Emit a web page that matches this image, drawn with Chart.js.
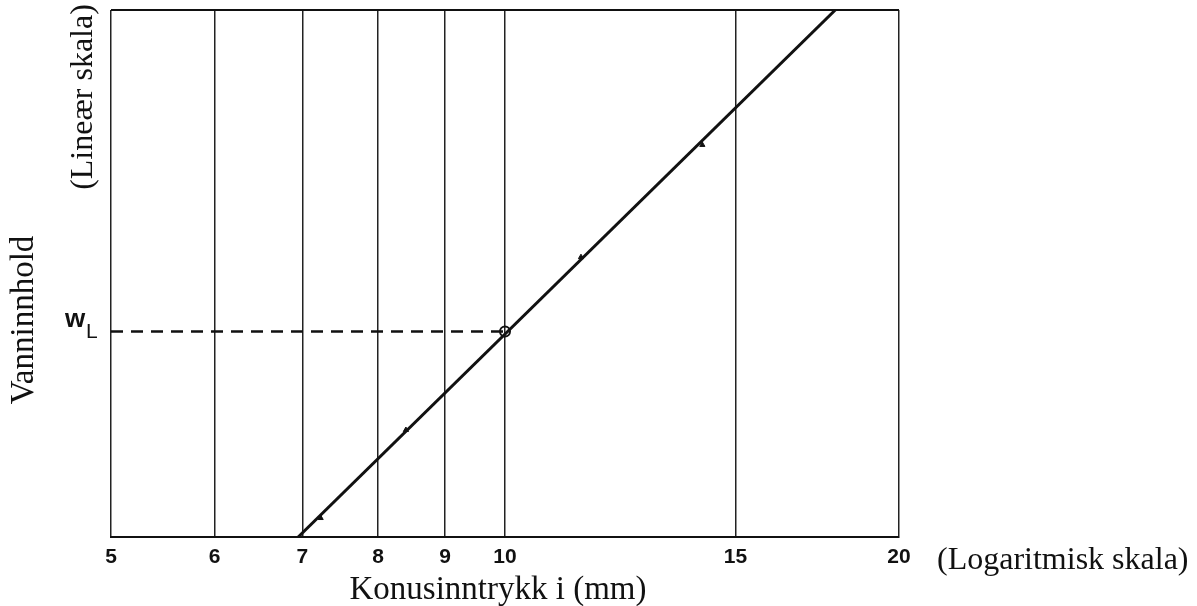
<!DOCTYPE html>
<html>
<head>
<meta charset="utf-8">
<script src="https://cdn.jsdelivr.net/npm/chart.js@4/dist/chart.umd.min.js"></script>
<style>
  html, body { margin: 0; padding: 0; background: #fff; }
</style>
</head>
<body>
<canvas id="konus" width="1197" height="606"></canvas>
<script>
// cone penetration (mm, log axis) vs. water content (linear, relative units 0..100)
const xTicks = [5, 6, 7, 8, 9, 10, 15, 20]
const penetration = [7.23, 8.4, 11.43, 14.15]
const waterContent = [3.6, 20.3, 53.1, 74.4]
const fitPenetration = [6.95, 17.88]
const fitWaterContent = [0, 100]
const limitPenetration = 10
const limitWater = 39

const serif = '"Liberation Serif", "Times New Roman", serif'
const sans = '"Liberation Sans", Arial, sans-serif'

const zip = (xs, ys) => xs.map((x, i) => ({ x: x, y: ys[i] }))

function rotatedText(ctx, text, x, y) {
    ctx.save()
    ctx.translate(x, y)
    ctx.rotate(-Math.PI / 2)
    ctx.textAlign = 'center'
    ctx.textBaseline = 'alphabetic'
    ctx.fillText(text, 0, 0)
    ctx.restore()
}

// frame top line and the free-standing labels
const textPlugin = {
    id: 'texts',
    afterDraw(chart) {
        const { ctx, chartArea } = chart
        const yScale = chart.scales.y
        ctx.save()
        ctx.strokeStyle = '#111'
        ctx.lineWidth = 2
        ctx.beginPath()
        ctx.moveTo(chartArea.left, chartArea.top)
        ctx.lineTo(chartArea.right, chartArea.top)
        ctx.stroke()

        ctx.fillStyle = '#111'
        ctx.textBaseline = 'alphabetic'
        ctx.font = '33px ' + serif
        ctx.textAlign = 'center'
        ctx.fillText('Konusinntrykk i (mm)', 498, 599)

        ctx.font = '32px ' + serif
        ctx.textAlign = 'left'
        ctx.fillText('(Logaritmisk skala)', 937, 569)

        ctx.font = '33px ' + serif
        rotatedText(ctx, 'Vanninnhold', 33, 320)
        ctx.font = '32px ' + serif
        rotatedText(ctx, '(Lineær skala)', 92, 97)

        const yw = yScale.getPixelForValue(limitWater)
        ctx.textAlign = 'left'
        ctx.font = 'bold 26px ' + sans
        ctx.fillText('w', 65, yw - 4)
        ctx.font = '21px ' + sans
        ctx.fillText('L', 86, yw + 7)
        ctx.restore()
    }
}

new Chart(document.getElementById('konus'), {
    type: 'scatter',
    data: {
        datasets: [
            {
                type: 'line',
                data: zip(fitPenetration, fitWaterContent),
                borderColor: '#111',
                borderWidth: 3,
                pointRadius: 0
            },
            {
                type: 'line',
                data: [{ x: xTicks[0], y: limitWater }, { x: limitPenetration, y: limitWater }],
                borderColor: '#111',
                borderWidth: 2.5,
                borderDash: [12, 8],
                pointRadius: 0
            },
            {
                data: zip(penetration, waterContent),
                pointStyle: 'triangle',
                pointRadius: 3,
                backgroundColor: '#111',
                borderColor: '#111'
            },
            {
                data: [{ x: limitPenetration, y: limitWater }],
                pointRadius: 5,
                borderWidth: 2,
                borderColor: '#111',
                backgroundColor: 'rgba(0,0,0,0)'
            }
        ]
    },
    options: {
        responsive: false,
        animation: false,
        devicePixelRatio: 1,
        layout: { padding: { left: 111, right: 298, top: 10, bottom: 0 } },
        plugins: { legend: { display: false }, tooltip: { enabled: false } },
        scales: {
            x: {
                type: 'logarithmic',
                min: 5,
                max: 20,
                afterBuildTicks: scale => { scale.ticks = xTicks.map(v => ({ value: v })) },
                afterFit: scale => { scale.height = 69 },
                grid: { color: '#222', lineWidth: 1.5, drawTicks: false },
                border: { display: true, color: '#111', width: 2 },
                ticks: {
                    color: '#111',
                    padding: 8,
                    maxRotation: 0,
                    autoSkip: false,
                    font: { family: sans, size: 21, weight: 'bold' },
                    callback: value => String(value)
                }
            },
            y: {
                min: 0,
                max: 100,
                display: false
            }
        }
    },
    plugins: [textPlugin]
})
</script>
</body>
</html>
